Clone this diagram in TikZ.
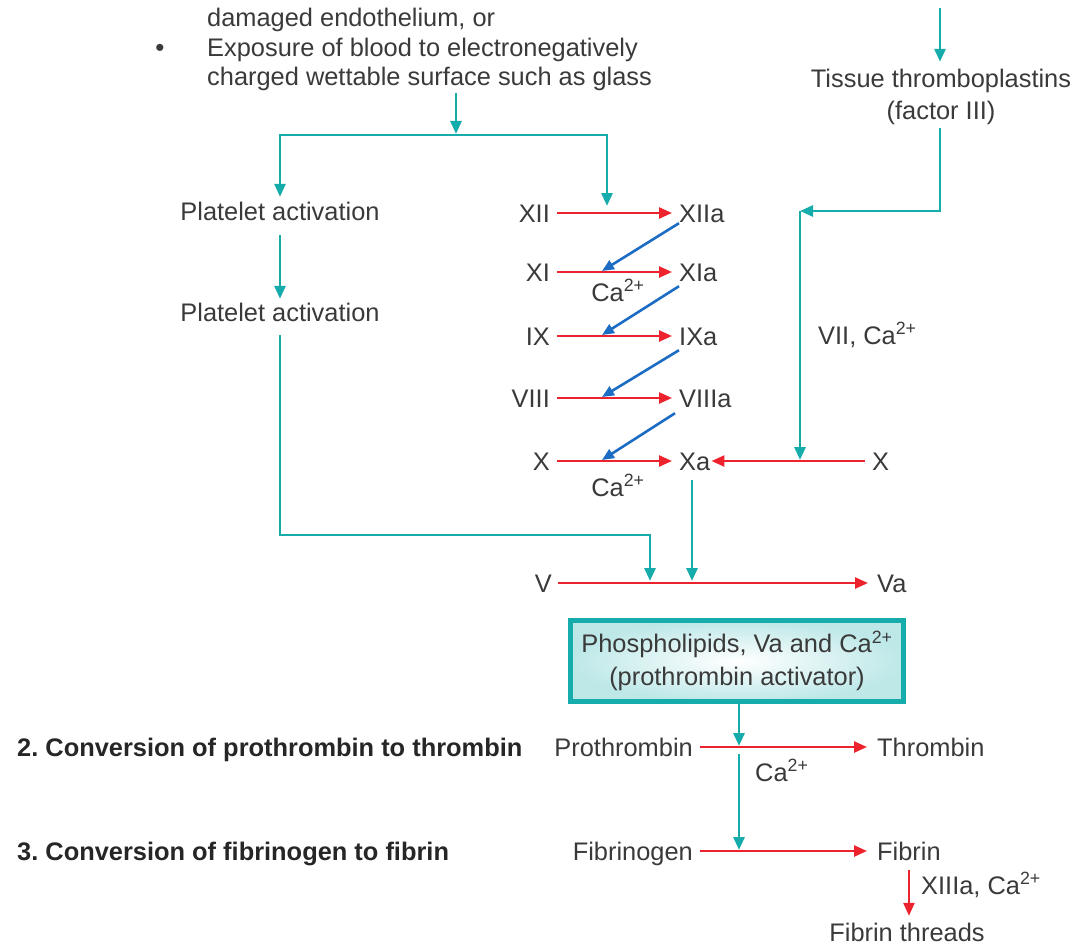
\documentclass[tikz,border=0pt]{standalone}
\usepackage{fontspec}
\setmainfont{Liberation Sans}
\usetikzlibrary{arrows.meta,calc}
\definecolor{tealc}{RGB}{22,172,172}
\definecolor{redc}{RGB}{236,34,44}
\definecolor{bluec}{RGB}{28,108,196}
\definecolor{txt}{RGB}{58,58,58}
\frenchspacing
\begin{document}
\begin{tikzpicture}[x=1pt,y=-1pt,
  every node/.style={font=\fontsize{25.4}{31}\selectfont, text=txt},
  lbl/.style={inner sep=0pt, text height=18pt, text depth=0pt},
  boldlbl/.style={lbl, font=\fontsize{25.4}{31}\selectfont\bfseries, text=black!85},
  tarr/.style={draw=tealc, line width=2.8pt, -{Triangle[length=13pt,width=11pt]}},
  rarr/.style={draw=redc, line width=2.4pt, -{Triangle[length=13pt,width=11pt]}},
  barr/.style={draw=bluec, line width=2.6pt, -{Triangle[length=12pt,width=10pt]}},
  actbox/.style={draw=tealc, line width=4.5pt, shading=radial, inner color=white,
    outer color=tealc!28, align=center, minimum width=333pt, minimum height=81pt,
    inner sep=2pt, font=\fontsize{25.4}{33}\selectfont},
]
\useasboundingbox (0,0) rectangle (1078,947);

% top-left text
\node[lbl, anchor=west] (l1) at (207,18) {damaged endothelium, or};
\node[lbl, anchor=west] (l2) at (207,48) {Exposure of blood to electronegatively};
\node[lbl, anchor=west] (l3) at (207,77) {charged wettable surface such as glass};
\node[inner sep=0pt, font=\fontsize{26}{26}\selectfont, text=txt] (bul) at (160,50) {•};

% split
\coordinate (s0) at (456,93);
\coordinate (split) at (456,135);
\draw[tarr, shorten >=1pt] (s0) -- (split);

\node[lbl] (Plat1) at (280,211) {Platelet activation};
\node[lbl] (Plat2) at (280,312) {Platelet activation};
\coordinate (c12) at (607,206);
\draw[tarr, shorten >=5pt] (split) -| (Plat1.north);
\draw[tarr] (split) -| (c12);
\draw[tarr, shorten <=15pt, shorten >=4pt] (Plat1) -- (Plat2);

% cascade
\node[lbl, anchor=east] (XII) at (550,213) {XII};
\node[lbl, anchor=west] (XIIa) at (679,213) {XIIa};
\node[lbl, anchor=east] (XI) at (550,272) {XI};
\node[lbl, anchor=west] (XIa) at (679,272) {XIa};
\node[lbl, anchor=east] (IX) at (550,336) {IX};
\node[lbl, anchor=west] (IXa) at (679,336) {IXa};
\node[lbl, anchor=east] (VIII) at (550,398) {VIII};
\node[lbl, anchor=west] (VIIIa) at (679,398) {VIIIa};
\node[lbl, anchor=east] (X) at (550,461) {X};
\node[lbl, anchor=west] (Xa) at (679,461) {Xa};
\node[lbl, anchor=west] (Xr) at (872,461) {X};

\foreach \a/\b in {XII/XIIa, XI/XIa, IX/IXa, VIII/VIIIa, X/Xa}
  \draw[rarr, shorten <=7pt, shorten >=7pt] (\a) -- (\b);
\draw[rarr, shorten <=7pt, shorten >=1pt] (Xr) -- (Xa);

\coordinate (e1) at (602,271);
\coordinate (e2) at (602,335);
\coordinate (e3) at (602,397);
\coordinate (e4) at (602,460);
\draw[barr] ([yshift=-1pt]XIIa.south west) -- (e1);
\draw[barr] ([yshift=-5pt]XIa.south west) -- (e2);
\draw[barr] ([yshift=-5pt]IXa.south west) -- (e3);
\draw[barr] ([xshift=-4pt,yshift=-6pt]VIIIa.south west) -- (e4);

\node[lbl] (ca1) at (618,292) {Ca\textsuperscript{2+}};
\node[lbl] (ca2) at (618,487) {Ca\textsuperscript{2+}};

% tissue pathway
\node[lbl] (TT1) at (941,79) {Tissue thromboplastins};
\node[lbl] (TT2) at (941,111) {(factor III)};
\coordinate (ttin) at (940,8);
\draw[tarr, shorten >=8pt] (ttin) -- (ttin |- TT1.north);
\coordinate (tts) at (940,128);
\coordinate (vii1) at (800,211);
\coordinate (xline) at (800,460);
\draw[tarr] (tts) |- (vii1);
\draw[tarr] (vii1) -- (xline);
\node[lbl, anchor=west] (vii) at (818,335) {VII, Ca\textsuperscript{2+}};

% V -> Va
\node[lbl, anchor=east] (V) at (552,583) {V};
\node[lbl, anchor=west] (Va) at (877,583) {Va};
\draw[rarr, shorten <=6pt, shorten >=9pt] (V) -- (Va);
\coordinate (p2s) at (280,335);
\coordinate (pc) at (650,535);
\coordinate (vA) at (650,581);
\draw[tarr] (p2s) |- (pc) -- (vA);
\coordinate (xas) at (692,480);
\coordinate (vB) at (692,581);
\draw[tarr] (xas) -- (vB);

% activator box
\node[actbox] (act) at (737,661) {Phospholipids, Va and Ca\textsuperscript{2+}\\(prothrombin activator)};

% prothrombin
\node[boldlbl, anchor=west] (s2) at (17,747) {2. Conversion of prothrombin to thrombin};
\node[lbl, anchor=east] (Pro) at (693,747) {Prothrombin};
\node[lbl, anchor=west] (Thr) at (877,747) {Thrombin};
\draw[rarr, shorten <=7pt, shorten >=10pt] (Pro) -- (Thr);
\coordinate (pt) at (739,746);
\draw[tarr] (act.south -| pt) -- (pt);
\node[lbl, anchor=west] (ca3) at (755,772) {Ca\textsuperscript{2+}};

% fibrinogen
\node[boldlbl, anchor=west] (s3) at (17,851) {3. Conversion of fibrinogen to fibrin};
\node[lbl, anchor=east] (Fgn) at (693,851) {Fibrinogen};
\node[lbl, anchor=west] (Fib) at (877,851) {Fibrin};
\draw[rarr, shorten <=7pt, shorten >=10pt] (Fgn) -- (Fib);
\coordinate (ps) at (739,754);
\coordinate (fe) at (739,850);
\draw[tarr] (ps) -- (fe);

\node[lbl] (Fth) at (907,932) {Fibrin threads};
\draw[rarr, shorten <=10pt, shorten >=7pt] (Fib.south) -- (Fib.south |- Fth.north);
\node[lbl, anchor=west] (x13) at (921,885) {XIIIa, Ca\textsuperscript{2+}};
\end{tikzpicture}
\end{document}
